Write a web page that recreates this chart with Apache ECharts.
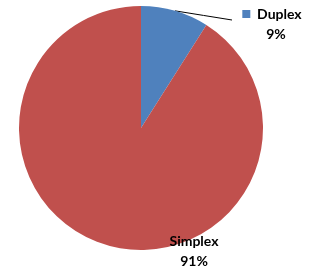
<!DOCTYPE html>
<html><head><meta charset="utf-8">
<script src="https://cdn.jsdelivr.net/npm/echarts@6/dist/echarts.min.js"></script>
<style>html,body{margin:0;padding:0;background:#fff}#c{width:320px;height:272px}</style>
</head><body><div id="c"></div>
<script>
const categories = ['Duplex', 'Simplex'];
const values = [9, 91];
const colors = ['#4F81BD', '#C0504D'];
const labelPos = [[272, 24], [194, 251]];
const leaderEnd = [232, 20];

const chart = echarts.init(document.getElementById('c'), null, {renderer: 'canvas'});
chart.setOption({
  animation: false,
  series: [{
    type: 'pie',
    center: [141, 128],
    radius: [0, 122],
    startAngle: 90,
    clockwise: true,
    avoidLabelOverlap: false,
    data: categories.map((n, i) => ({
      name: n, value: values[i],
      itemStyle: {color: colors[i]},
      label: i === 0 ? {formatter: '{sq|}  {b|{b}}\n{p|{d}%}'} : {formatter: '{b|{b}}\n{b|{d}%}'},
      labelLine: {show: i === 0}
    })),
    label: {
      show: true,
      position: 'outside',
      fontFamily: 'Lato',
      fontWeight: 'bold',
      fontSize: 14,
      color: '#000',
      lineHeight: 20,
      align: 'center',
      rich: {
        b: {fontFamily: 'Lato', fontWeight: 'bold', fontSize: 14, color: '#000', lineHeight: 20},
        p: {fontFamily: 'Lato', fontWeight: 'bold', fontSize: 14, color: '#000', lineHeight: 20, padding: [0, 0, 0, 8]},
        sq: {width: 8, height: 8, backgroundColor: '#4F81BD'}
      }
    },
    labelLine: {show: true, length: 10, length2: 40, lineStyle: {color: '#000', width: 1}},
    labelLayout: function (p) {
      const pos = labelPos[p.dataIndex];
      const out = {x: pos[0], y: pos[1], align: 'center', verticalAlign: 'middle'};
      if (p.dataIndex === 0 && p.labelLinePoints) {
        const s = p.labelLinePoints[0];
        out.labelLinePoints = [[s[0], s[1]], [(s[0] + leaderEnd[0]) / 2, (s[1] + leaderEnd[1]) / 2], leaderEnd];
      }
      return out;
    }
  }]
});
</script></body></html>
